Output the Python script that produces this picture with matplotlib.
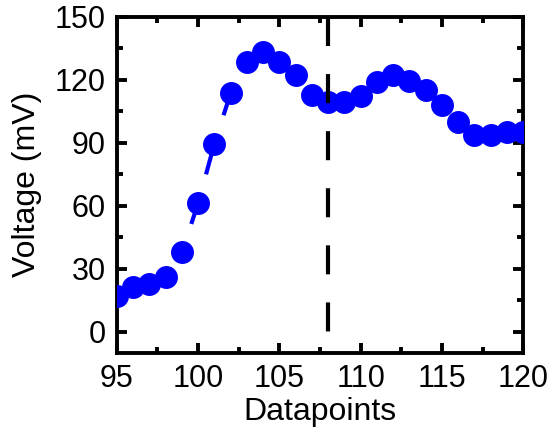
import numpy as np
import matplotlib
matplotlib.use("Agg")
import matplotlib.pyplot as plt

plt.rcParams['font.family'] = ['Liberation Sans', 'DejaVu Sans']
plt.rcParams['lines.scale_dashes'] = False

# data
datapoints = np.arange(95, 121)
voltage = [17.2, 21.2, 22.6, 26.2, 37.8, 61.2, 89.5, 113.6, 128.6, 133.2,
           128.6, 122.3, 112.6, 109.3, 109.3, 112.3, 119.0, 122.4, 119.3, 114.9,
           108.0, 100.0, 93.6, 93.5, 95.0, 95.0]
marker_x = 108            # dashed vertical marker
marker_span = [150, 0]

fig = plt.figure(figsize=(5.59, 4.34), dpi=100)
ax = fig.add_axes([0.209, 0.187, 0.727, 0.7745])

# line between points: each segment drawn as a dash that starts ~30 px after the point
for i in range(len(datapoints) - 1):
    ax.plot(datapoints[i:i + 2], voltage[i:i + 2], color='#0000FF', lw=3,
            linestyle=(200, (200, 21.6)), solid_capstyle='butt', zorder=2)
ax.plot(datapoints, voltage, 'o', color='#0000FF', ms=15.5, mec='#0000FF',
        zorder=3)

# vertical dashed line
ax.plot([marker_x, marker_x], marker_span, color='black', lw=3,
        linestyle=(0, (20.9, 20.2)), dash_capstyle='butt', zorder=4)

ax.set_xlim(95, 120)
ax.set_ylim(-10, 150)
ax.set_xticks([95, 100, 105, 110, 115, 120])
ax.set_xticks(np.arange(97.5, 120, 5), minor=True)
ax.set_yticks([0, 30, 60, 90, 120, 150])
ax.set_yticks([15, 45, 75, 105, 135], minor=True)

for s in ax.spines.values():
    s.set_linewidth(2.8)
ax.tick_params(which='both', direction='in', top=True, right=True, width=2.8,
               labelsize=22)
ax.tick_params(which='major', length=7, pad=8)
ax.tick_params(which='minor', length=4)

ax.set_xlabel('Datapoints', fontsize=23, labelpad=2)
ax.set_ylabel('Voltage (mV)', fontsize=23, labelpad=9)

fig.savefig('out.png', dpi=100)
